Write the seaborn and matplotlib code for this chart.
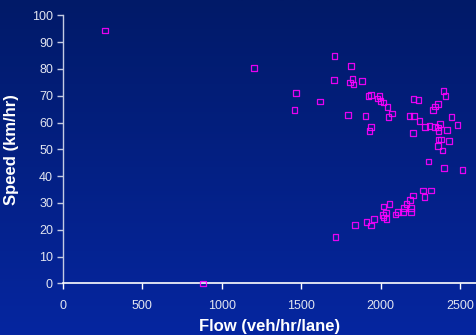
import numpy as np
import pandas as pd
import seaborn as sns
import matplotlib.pyplot as plt
from matplotlib.colors import LinearSegmentedColormap

# Datos: flujo (veh/hr/carril) y velocidad (km/hr)
flow = [266, 1204, 1710, 1815, 1707, 1822, 1809, 1828, 1883, 1467,
        1620, 1457, 1795, 1906, 1924, 1940, 1992, 1981, 2000, 2017,
        2042, 2072, 2050, 1940, 1931, 2206, 2237, 2395, 2407, 2361,
        2343, 2330, 2183, 2210, 2244, 2445, 2280, 2307, 2343, 2361,
        2374, 2363, 2418, 2483, 2204, 2363, 2380, 2431, 2361, 2390,
        2300, 2399, 2516,
        1717, 1839, 1910, 1940, 1958, 2017, 2055, 2034, 2015, 2019,
        2038, 2093, 2111, 2141, 2147, 2162, 2185, 2202, 2191, 2191,
        2267, 2275, 2317, 881]
speed = [94.3, 80.3, 84.9, 81.1, 75.9, 76.2, 74.9, 74.1, 75.5, 71.0,
         67.8, 64.7, 62.8, 62.4, 69.9, 70.3, 69.9, 68.9, 68.1, 67.5,
         65.8, 63.3, 62.1, 58.4, 56.9, 68.8, 68.5, 71.8, 69.8, 66.9,
         66.0, 64.7, 62.4, 62.4, 60.6, 62.1, 58.4, 58.8, 58.4, 58.2,
         59.4, 56.8, 57.2, 59.1, 56.1, 53.7, 53.6, 53.2, 51.3, 49.5,
         45.4, 43.1, 42.3,
         17.3, 21.8, 22.9, 21.5, 24.0, 28.6, 29.5, 26.5, 25.5, 24.5,
         24.0, 25.7, 26.7, 26.7, 28.2, 29.6, 31.1, 32.7, 28.2, 26.7,
         34.7, 32.3, 34.7, 0.0]

x_ticks = [0, 500, 1000, 1500, 2000, 2500]
y_ticks = [0, 10, 20, 30, 40, 50, 60, 70, 80, 90, 100]

df = pd.DataFrame({"flow": flow, "speed": speed})

plt.rcParams['font.family'] = ['Liberation Sans', 'DejaVu Sans']

fig = plt.figure(figsize=(4.76, 3.35), dpi=100)

# fondo con degradado azul
bg = fig.add_axes([0, 0, 1, 1], zorder=-10)
grad = np.linspace(0, 1, 256).reshape(-1, 1)
cmap_bg = LinearSegmentedColormap.from_list("bg", ["#011a68", "#0626a0"])
bg.imshow(grad, aspect='auto', cmap=cmap_bg, extent=[0, 1, 0, 1], origin='upper')
bg.axis('off')

ax = fig.add_axes([0.1317, 0.1543, 0.8683, 0.80])
ax.set_facecolor('none')

# marcadores encima de los ejes (el punto en velocidad 0 debe verse)
sns.scatterplot(data=df, x="flow", y="speed", ax=ax, marker='s', s=16,
                facecolor='none', edgecolor='#ff00ff', linewidth=0.9,
                alpha=0.9, legend=False, clip_on=False, zorder=4)

ax.set_xlim(0, 2600)
ax.set_ylim(0, 100)
ax.set_xticks(x_ticks)
ax.set_yticks(y_ticks)

for side in ['top', 'right']:
    ax.spines[side].set_visible(False)
ax.spines['left'].set_color('#c4cbe2')
ax.spines['bottom'].set_color('white')
ax.spines['left'].set_linewidth(1.0)
ax.spines['bottom'].set_linewidth(1.2)

ax.tick_params(axis='x', colors='white', labelcolor='#e2e5f0', labelsize=9,
               length=4, width=1, pad=8, direction='out')
ax.tick_params(axis='y', colors='#c4cbe2', labelcolor='#e2e5f0', labelsize=9,
               length=4, width=1, pad=3, direction='out')

ax.set_xlabel("Flow (veh/hr/lane)", color='white', fontsize=12,
              fontweight='bold', labelpad=5)
ax.set_ylabel("Speed (km/hr)", color='white', fontsize=12,
              fontweight='bold', labelpad=9)

fig.savefig("out.png", dpi=100)
